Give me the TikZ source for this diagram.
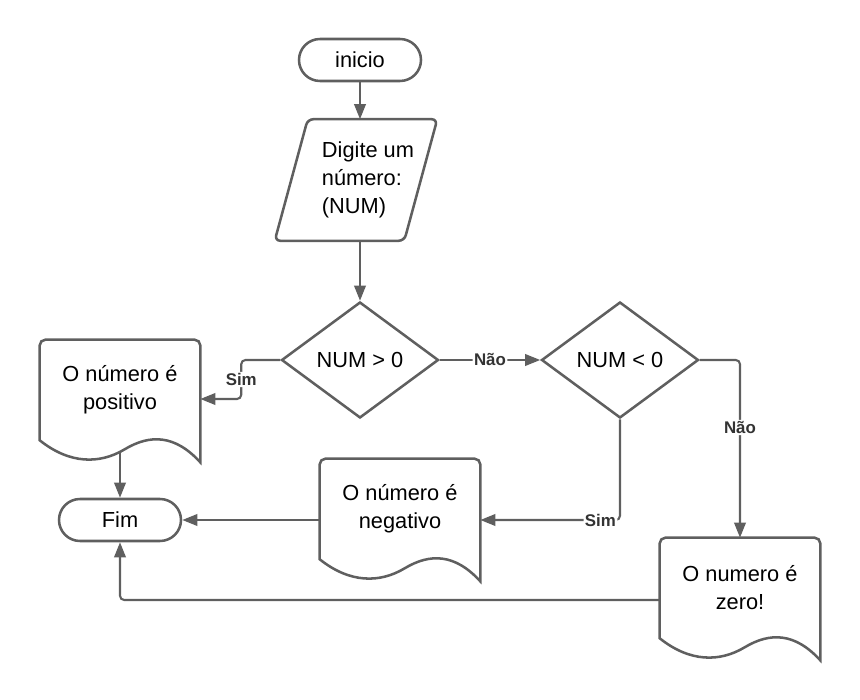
\documentclass[tikz,border=0pt]{standalone}
\usepackage{fontspec}
\setmainfont{Liberation Sans}
\usetikzlibrary{arrows.meta,calc,shapes.geometric,shapes.misc}
\definecolor{linha}{HTML}{5F5F5F}

\newcommand{\docforma}[1]{%
\draw[forma] (#1.south west) [rounded corners=4pt] -- (#1.north west) -- (#1.north east) [sharp corners] -- ($(#1.south east)+(0,22)$)
  .. controls ($(#1.south west)+(135,-6)$) and ($(#1.south west)+(110,-6)$) .. ($(#1.south west)+(85,9)$)
  .. controls ($(#1.south west)+(60,24)$) and ($(#1.south west)+(30,24)$) .. (#1.south west) -- cycle;
}
\newcommand{\paraforma}[1]{%
\draw[forma,rounded corners=4pt] (#1.south west) -- ($(#1.north west)+(33,0)$) -- (#1.north east) -- ($(#1.south east)-(33,0)$) -- cycle;
}

\begin{document}
\begin{tikzpicture}[x=0.25mm,y=-0.25mm,>={Triangle[length=3.8mm,width=2.9mm]},
  texto/.style={font=\fontsize{15.5}{20}\selectfont},
  forma/.style={draw=linha,line width=1.8pt},
  terminal/.style={forma,texto,rounded rectangle,minimum width=30.5mm,minimum height=10.5mm,inner sep=0pt},
  entradabox/.style={minimum width=40.5mm,minimum height=30.25mm,inner sep=0pt},
  decisao/.style={forma,texto,diamond,aspect=1.4,minimum width=39.25mm,minimum height=29mm,inner sep=0pt},
  documento/.style={texto,align=center,minimum width=40mm,minimum height=25mm,inner sep=0pt},
  seta/.style={draw=linha,line width=1.5pt,->,rounded corners=3pt},
  rotulo/.style={fill=white,inner sep=1pt,text=black!80,font=\bfseries\fontsize{12}{14}\selectfont}]

\useasboundingbox (0,0) rectangle (860,700);

\node[terminal] (inicio) at (360,60) {inicio};
\node[entradabox,label={[texto,align=left,xshift=3mm]center:{Digite um\\número:\\(NUM)}}] (entrada) at (356,180) {};
\paraforma{entrada}
\node[decisao] (maior) at (360,360) {NUM > 0};
\node[decisao] (menor) at (620,360) {NUM < 0};

\node[documento] (positivo) at (120,390) {O número é\\positivo};
\node[documento] (negativo) at (400,509) {O número é\\negativo};
\node[documento] (zero) at (740,588) {O numero é\\zero!};
\docforma{positivo}
\docforma{negativo}
\docforma{zero}

\node[terminal] (fim) at (120,520) {Fim};

\draw[seta] (inicio.south) -- (inicio.south |- entrada.north);
\draw[seta] (maior.north |- entrada.south) -- (maior.north);
\draw[seta] (maior.west) -- ++(-39,0) |- node[rotulo,pos=0.25]{Sim} ($(positivo.east)+(0,9)$);
\draw[seta] (maior.east) -- node[rotulo]{Não} (menor.west);
\draw[seta] (menor.east) -| node[rotulo,pos=0.69]{Não} (zero.north);
\draw[seta] (menor.south) |- node[rotulo,pos=0.57]{Sim} ($(negativo.east)+(0,11)$);
\draw[seta] ($(negativo.west)+(0,11)$) -- (fim.east);
\draw[seta] ($(positivo.south)+(0,12)$) -- (fim.north);
\draw[seta] ($(zero.west)+(0,12)$) -| (fim.south);

\end{tikzpicture}
\end{document}
